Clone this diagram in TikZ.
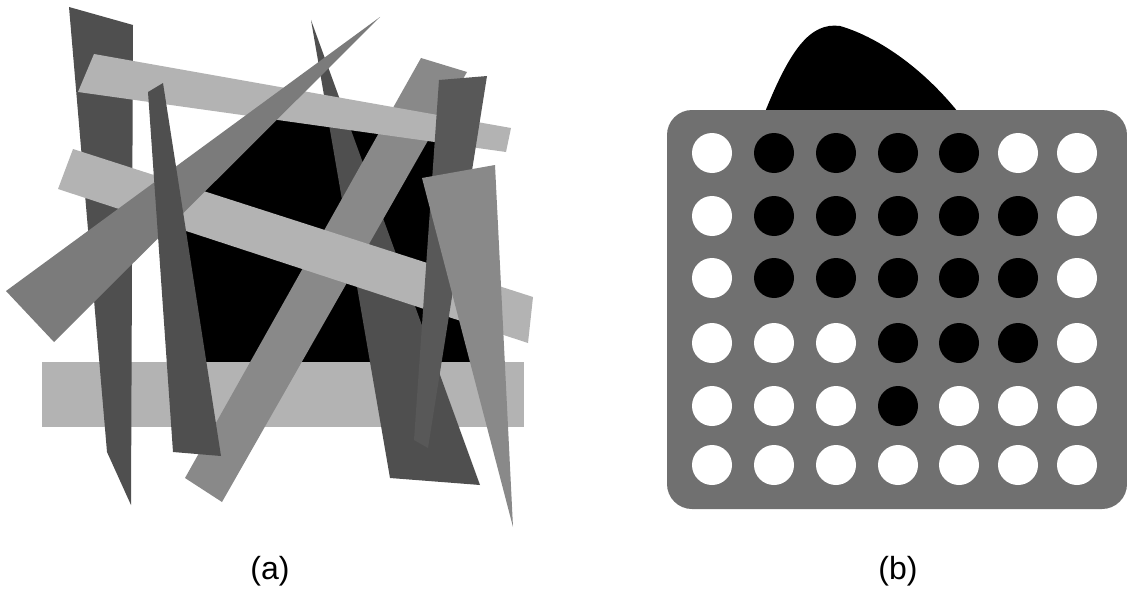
\documentclass[tikz,border=0pt]{standalone}
\usepackage{fontspec}
\setmainfont{Liberation Sans}
\usepackage{tikz}
\usepackage{xcolor}
\usetikzlibrary{positioning}

\definecolor{stickdark}{HTML}{4F4F4F}
\definecolor{stickmid}{HTML}{585858}
\definecolor{spikegray}{HTML}{7B7B7B}
\definecolor{stickgray}{HTML}{898989}
\definecolor{slablight}{HTML}{B3B3B3}
\definecolor{boardgray}{HTML}{707070}

\begin{document}
\begin{tikzpicture}[
          x=1pt, y=-1pt,
          every node/.style={font=\fontsize{32}{38}\selectfont},
          darkstick/.style={fill=stickdark},
          midstick/.style={fill=stickmid},
          graystick/.style={fill=stickgray},
          spike/.style={fill=spikegray},
          slab/.style={fill=slablight},
          blob/.style={fill=black},
          board/.style={fill=boardgray, rounded corners=25pt, minimum width=460pt, minimum height=399pt, inner sep=0pt}
      ]
  \useasboundingbox (0,0) rectangle (1127,594);

  \fill[blob] (180,175) -- (290,105) -- (466,130) -- (476,362) -- (185,362) -- cycle;
  \fill[slab] (42,362) rectangle (524,427);
  \fill[darkstick] (69,7) -- (133,25) -- (131,505) -- (107,452) -- cycle;
  \fill[darkstick] (311,20) -- (480,485) -- (390,478) -- cycle;
  \fill[graystick] (185,478) -- (421,58) -- (467,72) -- (222,502) -- cycle;
  \fill[slab] (73,149) -- (533,297) -- (528,343) -- (58,189) -- cycle;
  \fill[slab] (94,54) -- (511,128) -- (506,152) -- (78,92) -- cycle;
  \fill[spike] (6,291) -- (380,17) -- (54,342) -- cycle;
  \fill[darkstick] (148,92) -- (163,83) -- (221,456) -- (173,452) -- cycle;
  \fill[midstick] (439,80) -- (487,76) -- (428,448) -- (414,440) -- cycle;
  \fill[graystick] (422,178) -- (495,165) -- (513,527) -- cycle;

  \fill[blob] (765,112) .. controls (790,50) and (810,22) .. (840,26)
              .. controls (875,36) and (920,65) .. (958,112) -- cycle;
  \node[board] (brd) at (897,309.5) {};
  \foreach \pat [count=\j from 0] in {
      {white,black,black,black,black,white,white},
      {white,black,black,black,black,black,white},
      {white,black,black,black,black,black,white},
      {white,white,white,black,black,black,white},
      {white,white,white,black,white,white,white},
      {white,white,white,white,white,white,white}} {
    \pgfmathsetmacro\cy{{153,216,278,343,406,465}[\j]}
    \foreach \v [count=\i from 0] in \pat {
      \pgfmathsetmacro\cx{{712,774,836,898,959,1018,1077}[\i]}
      \fill[\v] (\cx,\cy) circle (20);
    }
  }

  \node (capa) at (270,571.5) {(a)};
  \node (capb) at (898,571.5) {(b)};
\end{tikzpicture}
\end{document}
